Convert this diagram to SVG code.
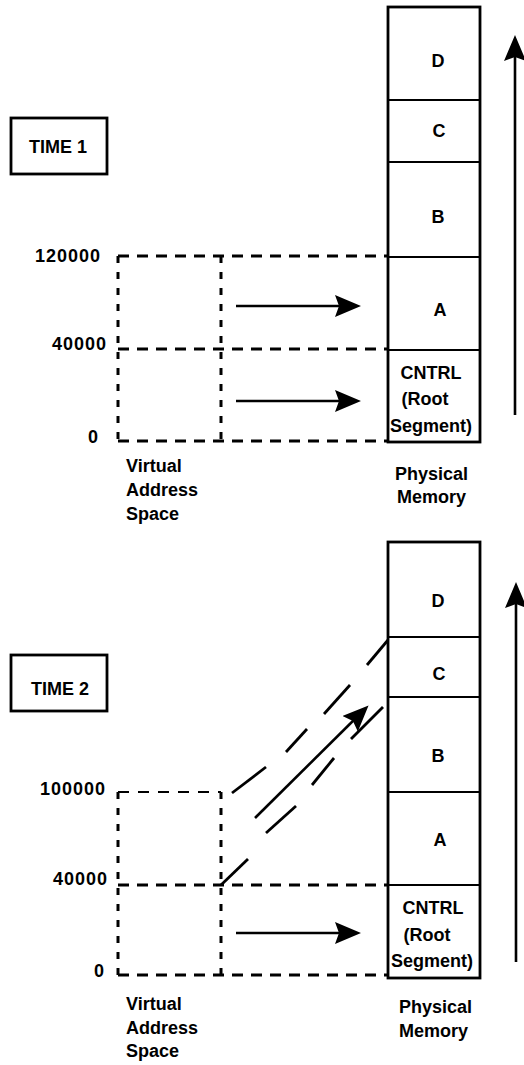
<svg xmlns="http://www.w3.org/2000/svg" width="524" height="1065" viewBox="0 0 524 1065">
<style>
text{font-family:"Liberation Sans",Arial,sans-serif;font-weight:bold;font-size:18px;fill:#000}
.num{font-size:18px;letter-spacing:1px}
.box{fill:#fff;stroke:#000;stroke-width:2.8}
.div{stroke:#000;stroke-width:2.2}
.dh{stroke:#000;stroke-width:2.8;stroke-dasharray:11 8;fill:none}
.dh2{stroke:#000;stroke-width:2;stroke-dasharray:11 9;fill:none}
.dv{stroke:#000;stroke-width:3;stroke-dasharray:7 9;fill:none}
.arr{stroke:#000;stroke-width:2.6;fill:none;marker-end:url(#ah)}
.ds{stroke:#000;stroke-width:2.8;stroke-linecap:butt}
</style>
<defs>
<marker id="ah" markerUnits="userSpaceOnUse" viewBox="0 0 26 22" refX="21" refY="11" markerWidth="26" markerHeight="22" orient="auto">
<path d="M0,0 L26,11 L0,22 L4,11 z" fill="#000"/>
</marker>
</defs>
<rect width="524" height="1065" fill="#fff"/>

<!-- TIME 1 panel -->
<g id="time1">
<rect class="box" x="11" y="118" width="96" height="56"/>
<text x="58" y="153" text-anchor="middle">TIME 1</text>
</g>
<g id="memory1">
<rect class="box" x="388" y="7" width="92" height="435"/>
<line class="div" x1="388" y1="100" x2="480" y2="100"/>
<line class="div" x1="388" y1="162" x2="480" y2="162"/>
<line class="div" x1="388" y1="257" x2="480" y2="257"/>
<line class="div" x1="388" y1="350" x2="480" y2="350"/>
<text x="438" y="67" text-anchor="middle">D</text>
<text x="439" y="137" text-anchor="middle">C</text>
<text x="438" y="223" text-anchor="middle">B</text>
<text x="440" y="316" text-anchor="middle">A</text>
<text x="431" y="379" text-anchor="middle">CNTRL</text>
<text x="425" y="405" text-anchor="middle">(Root</text>
<text x="431" y="432" text-anchor="middle">Segment)</text>
<text x="395" y="480">Physical</text>
<text x="397" y="503">Memory</text>
</g>
<g id="virtual1">
<path class="dv" d="M118,256 V441"/>
<path class="dv" d="M221,256 V441"/>
<path class="dh" d="M118,256 H388"/>
<path class="dh" d="M118,349 H388"/>
<path class="dh" d="M118,441 H388"/>
<text class="num" x="101" y="262" text-anchor="end">120000</text>
<text class="num" x="107" y="350" text-anchor="end">40000</text>
<text class="num" x="99" y="443" text-anchor="end">0</text>
<text x="126" y="472">Virtual</text>
<text x="126" y="496">Address</text>
<text x="126" y="520">Space</text>
</g>

<!-- TIME 2 panel -->
<g id="time2">
<rect class="box" x="11" y="655" width="96" height="56"/>
<text x="60" y="695" text-anchor="middle">TIME 2</text>
</g>
<g id="memory2">
<rect class="box" x="388" y="542" width="92" height="436"/>
<line class="div" x1="388" y1="637" x2="480" y2="637"/>
<line class="div" x1="388" y1="697" x2="480" y2="697"/>
<line class="div" x1="388" y1="792" x2="480" y2="792"/>
<line class="div" x1="388" y1="885" x2="480" y2="885"/>
<text x="438" y="607" text-anchor="middle">D</text>
<text x="439" y="680" text-anchor="middle">C</text>
<text x="438" y="762" text-anchor="middle">B</text>
<text x="440" y="846" text-anchor="middle">A</text>
<text x="433" y="914" text-anchor="middle">CNTRL</text>
<text x="427" y="941" text-anchor="middle">(Root</text>
<text x="432" y="967" text-anchor="middle">Segment)</text>
<text x="399" y="1013">Physical</text>
<text x="399" y="1037">Memory</text>
</g>
<g id="virtual2">
<path class="dv" d="M118,792 V975"/>
<path class="dv" d="M221,792 V975"/>
<path class="dh2" d="M118,792 H221"/>
<path class="dh" d="M118,885 H388"/>
<path class="dh" d="M118,975 H388"/>
<text class="num" x="106" y="795" text-anchor="end">100000</text>
<text class="num" x="108" y="885" text-anchor="end">40000</text>
<text class="num" x="105" y="977" text-anchor="end">0</text>
<text x="126" y="1010">Virtual</text>
<text x="126" y="1034">Address</text>
<text x="126" y="1057">Space</text>
</g>

<!-- connectors -->
<g id="connectors">
<line class="arr" x1="236" y1="306" x2="356" y2="306"/>
<line class="arr" x1="236" y1="401" x2="356" y2="401"/>
<line class="arr" x1="236" y1="933" x2="356" y2="933"/>
<line class="arr" x1="515" y1="415" x2="515" y2="40"/>
<line class="arr" x1="516" y1="962" x2="516" y2="587"/>
<line class="arr" x1="255" y1="818" x2="365" y2="709"/>
<line class="ds" x1="232" y1="793" x2="266" y2="767"/>
<line class="ds" x1="286" y1="752" x2="307" y2="729"/>
<line class="ds" x1="324" y1="714" x2="350" y2="685"/>
<line class="ds" x1="367" y1="665" x2="388" y2="640"/>
<line class="ds" x1="221" y1="885" x2="248" y2="859"/>
<line class="ds" x1="266" y1="833" x2="296" y2="806"/>
<line class="ds" x1="312" y1="785" x2="334" y2="758"/>
<line class="ds" x1="351" y1="739" x2="383" y2="707"/>
</g>
</svg>
